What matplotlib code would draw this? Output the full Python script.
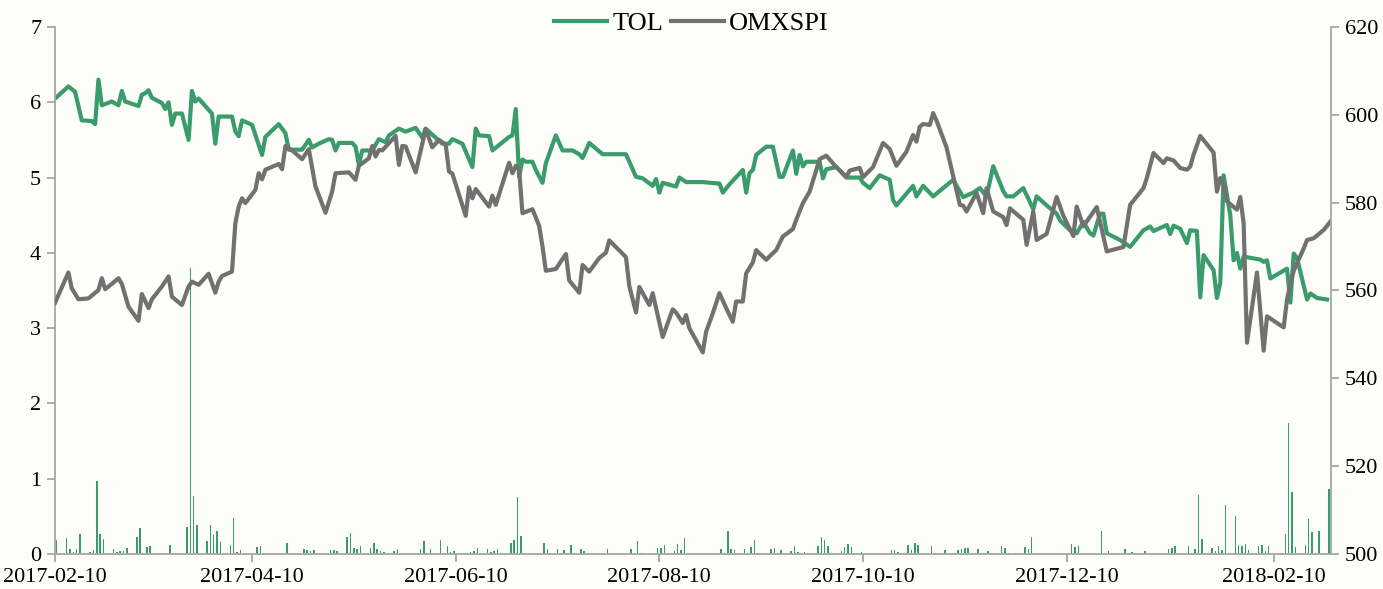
import numpy as np
import pandas as pd
import matplotlib
matplotlib.use("Agg")
import matplotlib.pyplot as plt
import matplotlib.dates as mdates

plt.rcParams['font.family'] = ['Liberation Serif', 'DejaVu Serif']

# TOL closing price (left axis)
tol_dates = [
    '2017-02-10', '2017-02-14', '2017-02-16', '2017-02-18', '2017-02-21', '2017-02-22', '2017-02-23',
    '2017-02-24', '2017-02-27', '2017-03-01', '2017-03-02', '2017-03-03', '2017-03-07', '2017-03-08',
    '2017-03-09', '2017-03-10', '2017-03-11', '2017-03-14', '2017-03-15', '2017-03-16', '2017-03-17',
    '2017-03-18', '2017-03-20', '2017-03-22', '2017-03-23', '2017-03-24', '2017-03-25', '2017-03-29',
    '2017-03-30', '2017-03-31', '2017-04-04', '2017-04-05', '2017-04-06', '2017-04-07', '2017-04-10',
    '2017-04-13', '2017-04-14', '2017-04-18', '2017-04-20', '2017-04-21', '2017-04-25', '2017-04-27',
    '2017-04-28', '2017-04-30', '2017-05-03', '2017-05-04', '2017-05-05', '2017-05-06', '2017-05-10',
    '2017-05-11', '2017-05-12', '2017-05-13', '2017-05-16', '2017-05-18', '2017-05-20', '2017-05-21',
    '2017-05-24', '2017-05-26', '2017-05-29', '2017-05-31', '2017-06-01', '2017-06-04', '2017-06-06',
    '2017-06-08', '2017-06-09', '2017-06-12', '2017-06-15', '2017-06-16', '2017-06-17', '2017-06-20',
    '2017-06-21', '2017-06-26', '2017-06-27', '2017-06-28', '2017-06-29', '2017-06-30', '2017-07-01',
    '2017-07-03', '2017-07-04', '2017-07-06', '2017-07-07', '2017-07-10', '2017-07-12', '2017-07-15',
    '2017-07-17', '2017-07-18', '2017-07-20', '2017-07-24', '2017-07-31', '2017-08-03', '2017-08-05',
    '2017-08-08', '2017-08-09', '2017-08-10', '2017-08-11', '2017-08-15', '2017-08-16', '2017-08-18',
    '2017-08-23', '2017-08-28', '2017-08-29', '2017-08-31', '2017-09-04', '2017-09-05', '2017-09-06',
    '2017-09-07', '2017-09-08', '2017-09-11', '2017-09-13', '2017-09-15', '2017-09-16', '2017-09-19',
    '2017-09-20', '2017-09-21', '2017-09-22', '2017-09-23', '2017-09-27', '2017-09-28', '2017-09-29',
    '2017-10-02', '2017-10-05', '2017-10-09', '2017-10-10', '2017-10-12', '2017-10-15', '2017-10-18',
    '2017-10-19', '2017-10-20', '2017-10-25', '2017-10-26', '2017-10-28', '2017-10-31', '2017-11-03',
    '2017-11-06', '2017-11-09', '2017-11-12', '2017-11-14', '2017-11-16', '2017-11-18', '2017-11-21',
    '2017-11-22', '2017-11-24', '2017-11-27', '2017-11-30', '2017-12-01', '2017-12-04', '2017-12-07',
    '2017-12-08', '2017-12-11', '2017-12-13', '2017-12-15', '2017-12-17', '2017-12-18', '2017-12-20',
    '2017-12-21', '2017-12-22', '2017-12-26', '2017-12-29', '2018-01-02', '2018-01-04', '2018-01-05',
    '2018-01-09', '2018-01-10', '2018-01-11', '2018-01-13', '2018-01-15', '2018-01-16', '2018-01-18',
    '2018-01-19', '2018-01-20', '2018-01-23', '2018-01-24', '2018-01-25', '2018-01-26', '2018-01-28',
    '2018-01-29', '2018-01-30', '2018-01-31', '2018-02-01', '2018-02-06', '2018-02-07', '2018-02-08',
    '2018-02-09', '2018-02-14', '2018-02-15', '2018-02-16', '2018-02-17', '2018-02-20', '2018-02-21',
    '2018-02-23', '2018-02-26',
]
tol_values = [
    6.05, 6.21, 6.14, 5.76, 5.75, 5.71, 6.30,
    5.96, 6.01, 5.96, 6.15, 6.01, 5.95, 6.10,
    6.12, 6.16, 6.06, 5.99, 5.91, 6.00, 5.70,
    5.85, 5.85, 5.50, 6.15, 6.01, 6.05, 5.85,
    5.45, 5.81, 5.81, 5.61, 5.55, 5.76, 5.70,
    5.30, 5.54, 5.71, 5.59, 5.37, 5.37, 5.50,
    5.40, 5.45, 5.51, 5.50, 5.36, 5.46, 5.46,
    5.41, 5.17, 5.36, 5.36, 5.51, 5.47, 5.56,
    5.65, 5.61, 5.66, 5.53, 5.65, 5.53, 5.45,
    5.45, 5.51, 5.45, 5.14, 5.65, 5.56, 5.55,
    5.36, 5.54, 5.56, 5.91, 5.01, 5.24, 5.21,
    5.21, 5.10, 4.93, 5.19, 5.56, 5.36, 5.36,
    5.31, 5.26, 5.46, 5.31, 5.31, 5.01, 4.99,
    4.89, 4.98, 4.80, 4.93, 4.88, 5.00, 4.94,
    4.94, 4.92, 4.80, 4.91, 5.10, 4.80, 5.06,
    5.10, 5.30, 5.41, 5.41, 5.01, 5.01, 5.36,
    5.05, 5.30, 5.15, 5.21, 5.21, 4.99, 5.11,
    5.14, 5.00, 5.00, 4.93, 4.86, 5.03, 4.97,
    4.70, 4.63, 4.89, 4.75, 4.89, 4.75, 4.86,
    4.97, 4.74, 4.80, 4.86, 4.75, 5.15, 4.82,
    4.75, 4.75, 4.86, 4.58, 4.75, 4.63, 4.52,
    4.43, 4.30, 4.26, 4.41, 4.26, 4.23, 4.52,
    4.52, 4.26, 4.17, 4.08, 4.30, 4.35, 4.29,
    4.37, 4.25, 4.36, 4.32, 4.13, 4.30, 4.29,
    3.41, 3.97, 3.77, 3.40, 3.60, 5.03, 4.50,
    3.90, 4.00, 3.79, 3.95, 3.91, 3.88, 3.90,
    3.66, 3.79, 3.34, 3.99, 3.93, 3.38, 3.46,
    3.40, 3.38,
]

# OMXSPI index (right axis)
omx_dates = [
    '2017-02-10', '2017-02-14', '2017-02-15', '2017-02-17', '2017-02-20', '2017-02-23', '2017-02-24',
    '2017-02-25', '2017-02-27', '2017-03-01', '2017-03-02', '2017-03-04', '2017-03-07', '2017-03-08',
    '2017-03-10', '2017-03-11', '2017-03-14', '2017-03-16', '2017-03-17', '2017-03-20', '2017-03-22',
    '2017-03-23', '2017-03-25', '2017-03-28', '2017-03-30', '2017-03-31', '2017-04-01', '2017-04-04',
    '2017-04-05', '2017-04-06', '2017-04-07', '2017-04-08', '2017-04-11', '2017-04-12', '2017-04-13',
    '2017-04-14', '2017-04-18', '2017-04-19', '2017-04-20', '2017-04-22', '2017-04-25', '2017-04-27',
    '2017-04-29', '2017-05-02', '2017-05-04', '2017-05-05', '2017-05-09', '2017-05-11', '2017-05-12',
    '2017-05-15', '2017-05-16', '2017-05-17', '2017-05-18', '2017-05-19', '2017-05-23', '2017-05-24',
    '2017-05-25', '2017-05-26', '2017-05-29', '2017-06-01', '2017-06-03', '2017-06-05', '2017-06-07',
    '2017-06-08', '2017-06-09', '2017-06-13', '2017-06-14', '2017-06-15', '2017-06-16', '2017-06-20',
    '2017-06-21', '2017-06-22', '2017-06-26', '2017-06-27', '2017-06-28', '2017-06-29', '2017-06-30',
    '2017-07-03', '2017-07-05', '2017-07-06', '2017-07-07', '2017-07-10', '2017-07-13', '2017-07-14',
    '2017-07-17', '2017-07-18', '2017-07-20', '2017-07-23', '2017-07-25', '2017-07-26', '2017-07-31',
    '2017-08-01', '2017-08-03', '2017-08-04', '2017-08-07', '2017-08-08', '2017-08-11', '2017-08-14',
    '2017-08-15', '2017-08-17', '2017-08-18', '2017-08-19', '2017-08-23', '2017-08-24', '2017-08-26',
    '2017-08-28', '2017-08-30', '2017-09-01', '2017-09-02', '2017-09-04', '2017-09-05', '2017-09-07',
    '2017-09-08', '2017-09-11', '2017-09-13', '2017-09-14', '2017-09-16', '2017-09-19', '2017-09-20',
    '2017-09-22', '2017-09-24', '2017-09-27', '2017-09-29', '2017-10-02', '2017-10-05', '2017-10-06',
    '2017-10-09', '2017-10-10', '2017-10-13', '2017-10-16', '2017-10-18', '2017-10-20', '2017-10-23',
    '2017-10-25', '2017-10-26', '2017-10-27', '2017-10-28', '2017-10-30', '2017-10-31', '2017-11-01',
    '2017-11-04', '2017-11-08', '2017-11-09', '2017-11-10', '2017-11-13', '2017-11-15', '2017-11-16',
    '2017-11-18', '2017-11-21', '2017-11-22', '2017-11-23', '2017-11-27', '2017-11-28', '2017-11-30',
    '2017-12-01', '2017-12-04', '2017-12-07', '2017-12-09', '2017-12-12', '2017-12-13', '2017-12-15',
    '2017-12-19', '2017-12-22', '2017-12-27', '2017-12-29', '2018-01-02', '2018-01-03', '2018-01-05',
    '2018-01-08', '2018-01-09', '2018-01-11', '2018-01-13', '2018-01-15', '2018-01-16', '2018-01-17',
    '2018-01-19', '2018-01-23', '2018-01-24', '2018-01-25', '2018-01-26', '2018-01-27', '2018-01-30',
    '2018-01-31', '2018-02-01', '2018-02-02', '2018-02-05', '2018-02-07', '2018-02-08', '2018-02-13',
    '2018-02-14', '2018-02-15', '2018-02-16', '2018-02-17', '2018-02-19', '2018-02-20', '2018-02-22',
    '2018-02-25', '2018-02-27',
]
omx_values = [
    557.2, 564.1, 560.5, 558.0, 558.2, 560.1, 562.8,
    560.3, 561.5, 562.8, 561.5, 556.3, 553.1, 559.2,
    556.0, 558.0, 560.9, 563.2, 558.6, 556.7, 560.9,
    562.0, 561.3, 563.8, 559.5, 562.0, 563.3, 564.3,
    575.3, 579.1, 581.0, 579.9, 582.9, 586.7, 585.3,
    587.5, 588.8, 587.6, 592.9, 591.9, 589.9, 592.2,
    583.7, 577.7, 582.5, 586.7, 586.9, 585.2, 588.4,
    590.1, 592.9, 590.5, 592.0, 591.9, 595.2, 588.6,
    592.9, 592.8, 586.9, 596.7, 592.6, 594.3, 593.2,
    587.1, 586.6, 577.0, 583.5, 581.0, 583.1, 579.1,
    581.6, 579.5, 589.1, 586.7, 588.4, 587.5, 577.6,
    578.5, 574.7, 570.0, 564.5, 564.9, 568.3, 562.3,
    559.5, 565.8, 564.3, 567.4, 568.6, 571.4, 567.6,
    561.0, 555.0, 560.8, 556.7, 559.4, 549.4, 555.7,
    555.0, 552.6, 554.4, 551.4, 545.9, 550.6, 554.8,
    559.4, 556.0, 552.9, 557.5, 557.5, 563.9, 566.4,
    569.2, 567.0, 568.5, 569.2, 572.3, 574.0, 576.1,
    579.9, 582.5, 589.9, 590.7, 588.1, 585.9, 587.3,
    587.9, 585.8, 588.1, 593.6, 592.2, 588.4, 591.6,
    595.4, 593.9, 597.3, 597.9, 597.7, 600.4, 598.7,
    592.6, 579.5, 579.3, 578.0, 582.2, 577.6, 583.3,
    578.0, 576.7, 574.9, 578.7, 576.1, 570.4, 578.0,
    571.5, 572.9, 581.3, 577.0, 572.4, 579.1, 574.6,
    579.0, 568.9, 569.9, 579.5, 583.3, 585.6, 591.3,
    589.0, 590.1, 589.6, 587.9, 587.5, 588.2, 590.9,
    595.2, 591.4, 582.5, 585.6, 584.1, 580.3, 578.4,
    581.3, 575.3, 548.1, 564.1, 546.3, 554.1, 551.6,
    558.0, 561.5, 564.5, 566.2, 569.6, 571.5, 571.9,
    573.8, 575.7,
]

# daily bars (left axis)
bar_dates = [
    '2017-02-10', '2017-02-13', '2017-02-14', '2017-02-15', '2017-02-16', '2017-02-17', '2017-02-20',
    '2017-02-21', '2017-02-22', '2017-02-23', '2017-02-24', '2017-02-27', '2017-02-28', '2017-03-01',
    '2017-03-02', '2017-03-03', '2017-03-06', '2017-03-07', '2017-03-08', '2017-03-09', '2017-03-10',
    '2017-03-13', '2017-03-14', '2017-03-15', '2017-03-16', '2017-03-17', '2017-03-21', '2017-03-22',
    '2017-03-23', '2017-03-24', '2017-03-27', '2017-03-28', '2017-03-29', '2017-03-30', '2017-03-31',
    '2017-04-03', '2017-04-04', '2017-04-05', '2017-04-06', '2017-04-07', '2017-04-11', '2017-04-12',
    '2017-04-13', '2017-04-18', '2017-04-19', '2017-04-20', '2017-04-21', '2017-04-24', '2017-04-25',
    '2017-04-26', '2017-04-27', '2017-04-28', '2017-05-02', '2017-05-03', '2017-05-04', '2017-05-05',
    '2017-05-08', '2017-05-09', '2017-05-10', '2017-05-11', '2017-05-12', '2017-05-15', '2017-05-16',
    '2017-05-17', '2017-05-18', '2017-05-19', '2017-05-22', '2017-05-23', '2017-05-26', '2017-05-29',
    '2017-05-30', '2017-05-31', '2017-06-02', '2017-06-05', '2017-06-07', '2017-06-08', '2017-06-09',
    '2017-06-12', '2017-06-13', '2017-06-14', '2017-06-15', '2017-06-16', '2017-06-19', '2017-06-20',
    '2017-06-21', '2017-06-22', '2017-06-26', '2017-06-27', '2017-06-28', '2017-06-29', '2017-06-30',
    '2017-07-03', '2017-07-04', '2017-07-06', '2017-07-07', '2017-07-10', '2017-07-12', '2017-07-13',
    '2017-07-14', '2017-07-17', '2017-07-18', '2017-07-20', '2017-07-24', '2017-07-25', '2017-07-26',
    '2017-08-01', '2017-08-03', '2017-08-04', '2017-08-07', '2017-08-08', '2017-08-09', '2017-08-10',
    '2017-08-11', '2017-08-14', '2017-08-15', '2017-08-16', '2017-08-17', '2017-08-28', '2017-08-30',
    '2017-08-31', '2017-09-01', '2017-09-04', '2017-09-06', '2017-09-07', '2017-09-08', '2017-09-12',
    '2017-09-13', '2017-09-15', '2017-09-18', '2017-09-19', '2017-09-20', '2017-09-22', '2017-09-26',
    '2017-09-27', '2017-09-28', '2017-09-29', '2017-10-03', '2017-10-04', '2017-10-05', '2017-10-06',
    '2017-10-09', '2017-10-12', '2017-10-13', '2017-10-16', '2017-10-18', '2017-10-19', '2017-10-20',
    '2017-10-23', '2017-10-24', '2017-10-25', '2017-10-26', '2017-10-30', '2017-10-31', '2017-11-03',
    '2017-11-06', '2017-11-07', '2017-11-08', '2017-11-09', '2017-11-10', '2017-11-13', '2017-11-16',
    '2017-11-17', '2017-11-20', '2017-11-21', '2017-11-22', '2017-11-24', '2017-11-27', '2017-11-28',
    '2017-11-29', '2017-12-01', '2017-12-04', '2017-12-05', '2017-12-07', '2017-12-11', '2017-12-12',
    '2017-12-13', '2017-12-20', '2017-12-22', '2017-12-27', '2017-12-28', '2017-12-29', '2018-01-02',
    '2018-01-05', '2018-01-09', '2018-01-10', '2018-01-11', '2018-01-15', '2018-01-16', '2018-01-17',
    '2018-01-18', '2018-01-19', '2018-01-22', '2018-01-23', '2018-01-24', '2018-01-25', '2018-01-26',
    '2018-01-29', '2018-01-30', '2018-01-31', '2018-02-01', '2018-02-02', '2018-02-05', '2018-02-06',
    '2018-02-07', '2018-02-08', '2018-02-12', '2018-02-13', '2018-02-14', '2018-02-15', '2018-02-16',
    '2018-02-19', '2018-02-20', '2018-02-21', '2018-02-23', '2018-02-26',
]
bar_values = [
    0.19, 0.21, 0.06, 0.03, 0.06, 0.27, 0.03,
    0.05, 0.97, 0.27, 0.20, 0.06, 0.03, 0.04,
    0.04, 0.08, 0.23, 0.34, 0.02, 0.09, 0.11,
    0.02, 0.01, 0.02, 0.12, 0.005, 0.36, 3.80,
    0.77, 0.38, 0.17, 0.38, 0.25, 0.31, 0.16,
    0.12, 0.48, 0.03, 0.05, 0.01, 0.09, 0.10,
    0.02, 0.02, 0.005, 0.14, 0.01, 0.01, 0.06,
    0.05, 0.04, 0.05, 0.005, 0.05, 0.05, 0.04,
    0.22, 0.28, 0.08, 0.07, 0.10, 0.08, 0.15,
    0.06, 0.04, 0.03, 0.04, 0.07, 0.01, 0.02,
    0.06, 0.17, 0.06, 0.19, 0.10, 0.03, 0.04,
    0.005, 0.01, 0.03, 0.04, 0.08, 0.06, 0.03,
    0.04, 0.06, 0.15, 0.19, 0.76, 0.24, 0.02,
    0.01, 0.01, 0.14, 0.06, 0.06, 0.05, 0.01,
    0.12, 0.06, 0.04, 0.005, 0.01, 0.07, 0.005,
    0.07, 0.17, 0.01, 0.01, 0.02, 0.08, 0.08,
    0.12, 0.04, 0.13, 0.05, 0.21, 0.06, 0.31,
    0.07, 0.05, 0.06, 0.09, 0.19, 0.02, 0.07,
    0.08, 0.05, 0.04, 0.10, 0.03, 0.03, 0.11,
    0.23, 0.19, 0.10, 0.04, 0.09, 0.13, 0.09,
    0.03, 0.005, 0.005, 0.005, 0.05, 0.05, 0.03,
    0.12, 0.05, 0.15, 0.12, 0.11, 0.02, 0.05,
    0.01, 0.05, 0.06, 0.08, 0.08, 0.07, 0.04,
    0.02, 0.11, 0.08, 0.02, 0.01, 0.09, 0.06,
    0.23, 0.01, 0.005, 0.005, 0.01, 0.13, 0.09,
    0.10, 0.31, 0.04, 0.06, 0.02, 0.03, 0.04,
    0.01, 0.06, 0.08, 0.10, 0.10, 0.02, 0.07,
    0.78, 0.20, 0.08, 0.04, 0.10, 0.05, 0.65,
    0.50, 0.12, 0.11, 0.13, 0.05, 0.10, 0.12,
    0.04, 0.10, 0.02, 0.27, 1.74, 0.83, 0.09,
    0.12, 0.47, 0.29, 0.30, 0.86,
]

tick_dates = ['2017-02-10', '2017-04-10', '2017-06-10', '2017-08-10',
              '2017-10-10', '2017-12-10', '2018-02-10']

GREEN = '#3a9b6b'
GRAY = '#717171'
AXIS = '#a6a6a6'
BG = '#fdfdf9'

tol_x = pd.to_datetime(tol_dates)
omx_x = pd.to_datetime(omx_dates)
bar_x = pd.to_datetime(bar_dates) + pd.Timedelta(hours=12)

fig = plt.figure(figsize=(13.83, 5.89), dpi=100, facecolor=BG)
ax = fig.add_axes([0.0398, 0.0594, 0.9226, 0.8948])
ax.set_facecolor(BG)
ax2 = ax.twinx()

ax.bar(bar_x, bar_values, width=0.45, color=GREEN, linewidth=0)
l1, = ax.plot(tol_x, tol_values, color=GREEN, lw=3.0, label='TOL', solid_joinstyle='round')
l2, = ax2.plot(omx_x, omx_values, color=GRAY, lw=3.0, label='OMXSPI', solid_joinstyle='round')

ax.set_xlim(pd.Timestamp('2017-02-10'), pd.Timestamp('2018-02-27 04:00'))
ax.set_ylim(0, 7)
ax2.set_ylim(500, 620)
ax.set_yticks(range(0, 8))
ax2.set_yticks(range(500, 621, 20))
ax.set_xticks(pd.to_datetime(tick_dates))
ax.xaxis.set_major_formatter(mdates.DateFormatter('%Y-%m-%d'))

for a in (ax, ax2):
    a.spines['top'].set_visible(False)
    for s in ('left', 'right', 'bottom'):
        a.spines[s].set_color(AXIS)
        a.spines[s].set_linewidth(1.3)
    a.tick_params(colors=AXIS, labelcolor='black', labelsize=16, length=6, width=1.3)
ax.spines['right'].set_visible(False)
ax2.spines['left'].set_visible(False)
ax2.spines['bottom'].set_visible(False)
ax.tick_params(axis='x', pad=4)
ax.tick_params(axis='y', pad=4)
ax2.tick_params(axis='y', pad=4)

fig.legend(handles=[l1, l2], loc='center', bbox_to_anchor=(0.5, 0.96), ncol=2,
           frameon=False, fontsize=19, handlelength=2.0, handletextpad=0.2,
           columnspacing=0.3)

fig.savefig('out.png', dpi=100, facecolor=BG)
